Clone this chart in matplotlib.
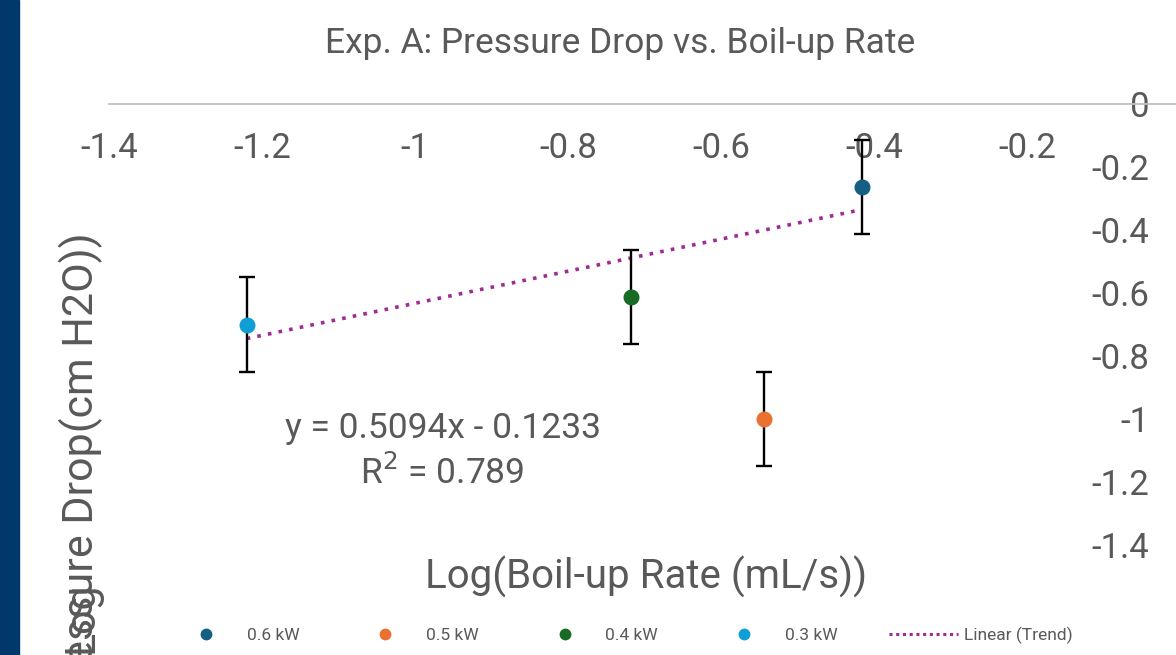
import matplotlib
matplotlib.use("Agg")
import matplotlib.pyplot as plt
from matplotlib.lines import Line2D
import numpy as np

# ---- data ----
series_labels = ["0.6 kW", "0.5 kW", "0.4 kW", "0.3 kW"]
log_rate = [-0.416, -0.544, -0.718, -1.22]
log_dp = [-0.264, -1.00, -0.613, -0.700]
dp_err = [0.15, 0.15, 0.15, 0.15]
series_colors = ["#156082", "#E97132", "#196B24", "#0F9ED5"]
trend_slope = 0.5094
trend_intercept = -0.1233
trend_r2 = 0.789
x_ticks = [-1.4, -1.2, -1.0, -0.8, -0.6, -0.4, -0.2]
x_tick_labels = ["-1.4", "-1.2", "-1", "-0.8", "-0.6", "-0.4", "-0.2"]
y_ticks = [0, -0.2, -0.4, -0.6, -0.8, -1.0, -1.2, -1.4]
y_tick_labels = ["0", "-0.2", "-0.4", "-0.6", "-0.8", "-1", "-1.2", "-1.4"]

plt.rcParams['font.family'] = ['Roboto', 'DejaVu Sans']
TXT = "#595959"

W, H = 1176, 655
fig = plt.figure(figsize=(W / 100, H / 100), dpi=100)

# dark strip on the left
fig.patches.append(plt.Rectangle((0, 0), 19 / W, 1, transform=fig.transFigure,
                                 color="#00386B", zorder=0))

x0, x1 = 109, 1180
ytop, ybot = 104, 608
ax = fig.add_axes([x0 / W, 1 - ybot / H, (x1 - x0) / W, (ybot - ytop) / H])
ax.set_xlim(-1.4, 0)
ax.set_ylim(-1.6, 0)
ax.patch.set_alpha(0)

for s in ["top", "right"]:
    ax.spines[s].set_visible(False)
ax.spines["bottom"].set_position(("data", 0))
ax.spines["bottom"].set_color("#BFBFBF")
ax.spines["bottom"].set_linewidth(1.3)
ax.spines["left"].set_position(("data", 0))
ax.spines["left"].set_visible(False)

ax.set_xticks(x_ticks)
ax.set_xticklabels(x_tick_labels)
ax.set_yticks(y_ticks)
ax.set_yticklabels(y_tick_labels)
ax.tick_params(axis="x", length=0, pad=20, labelsize=25, labelcolor=TXT)
ax.tick_params(axis="y", length=0, pad=22, labelsize=25, labelcolor=TXT)

# data points with error bars
for lbl, xv, yv, ev, c in zip(series_labels, log_rate, log_dp, dp_err, series_colors):
    ax.errorbar([xv], [yv], yerr=[ev], fmt="none", ecolor="black", elinewidth=1.7,
                capsize=6, capthick=1.7, zorder=3)
    ax.plot([xv], [yv], "o", color=c, markersize=10.5, zorder=4, label=lbl)

# linear trend
xt = np.array([min(log_rate), max(log_rate)])
ax.plot(xt, trend_slope * xt + trend_intercept, linestyle=(0, (1, 2.0)), color="#A02B93",
        linewidth=2.6, zorder=2)

ax.text(-0.964, -1.03, "y = %.4fx - %.4f" % (trend_slope, abs(trend_intercept)),
        ha="center", va="center", fontsize=25.5, color=TXT)
ax.text(-0.964, -1.17, "R$^2$ = %.3f" % trend_r2, ha="center", va="center",
        fontsize=25.5, color=TXT)

fig.text(620 / W, 1 - 44 / H, "Exp. A: Pressure Drop vs. Boil-up Rate", ha="center",
         va="center", fontsize=25.5, color=TXT)
fig.text(646 / W, 1 - 577 / H, "Log(Boil-up Rate (mL/s))", ha="center", va="center",
         fontsize=29, color=TXT)
fig.text(81 / W, 1 - 232 / H, "Log(Pressure Drop(cm H2O))", rotation=90, ha="center",
         va="top", fontsize=31, color=TXT)
fig.text(81 / W, 1 - 617 / H, "Log", rotation=90, ha="center", va="center",
         fontsize=31, color=TXT)

handles = [Line2D([], [], marker="o", linestyle="none", color=c, markersize=7.5)
           for c in series_colors]
handles.append(Line2D([], [], linestyle=(0, (1, 1.2)), color="#A02B93", linewidth=2.2))
fig.legend(handles, series_labels + ["Linear (Trend)"], loc="center",
           bbox_to_anchor=(622 / W, 1 - 635 / H), ncol=5, frameon=False,
           prop={"family": ["Roboto", "DejaVu Sans"], "size": 12.5},
           labelcolor=TXT, columnspacing=2.95, handlelength=4.0, handletextpad=0.35)

fig.savefig("out.png", dpi=100)
